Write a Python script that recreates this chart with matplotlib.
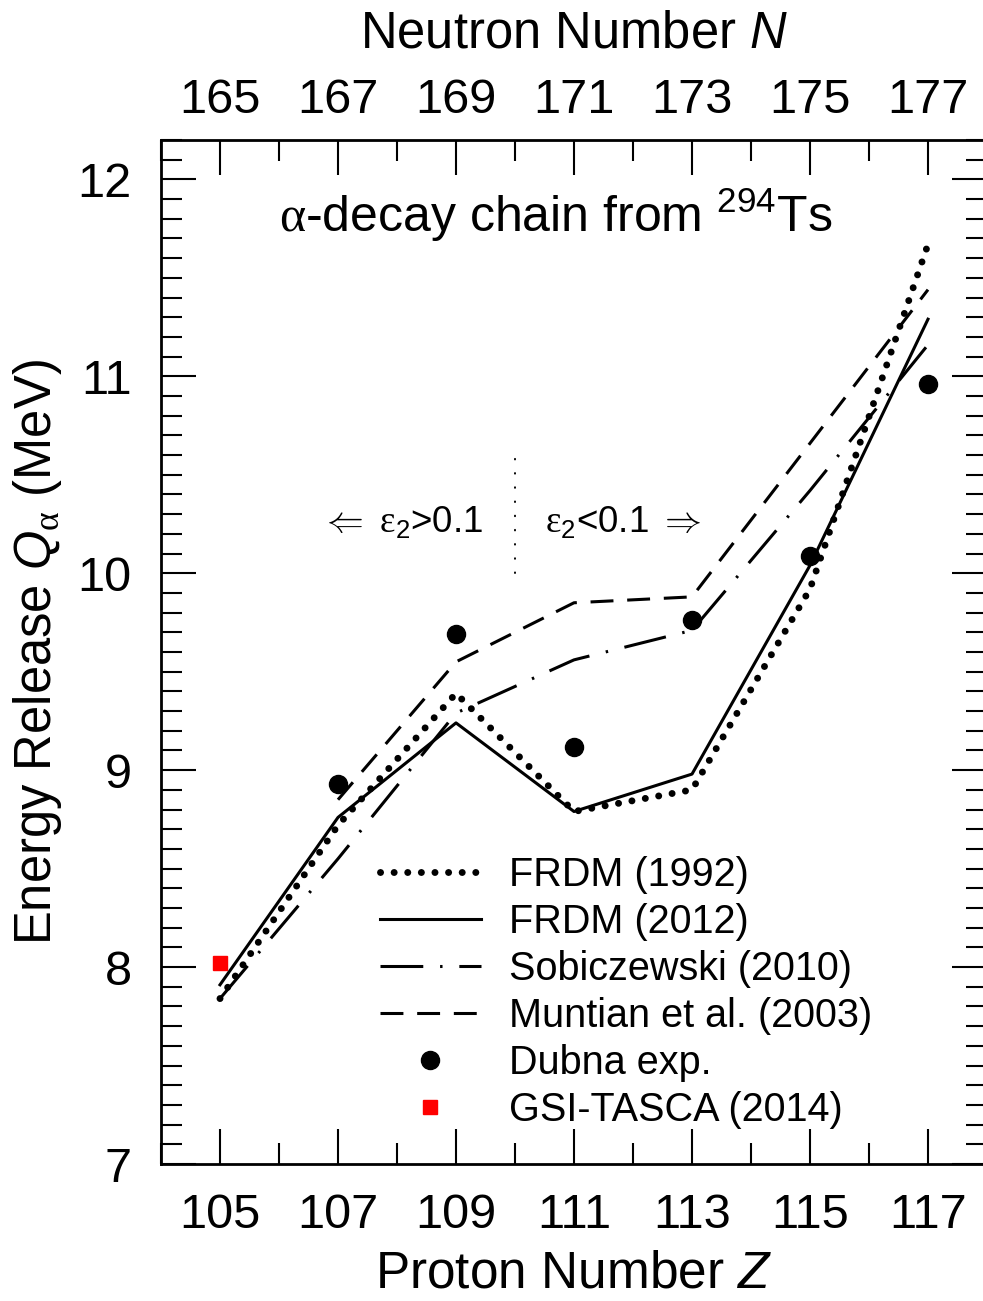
import matplotlib
matplotlib.use("Agg")
import matplotlib.pyplot as plt

plt.rcParams['font.family'] = ['Liberation Sans', 'DejaVu Sans']
plt.rcParams['mathtext.fontset'] = 'custom'
plt.rcParams['mathtext.rm'] = 'Liberation Sans'
plt.rcParams['mathtext.it'] = 'Liberation Sans:italic'
# serif greek letters (Symbol-font look of the original)
plt.rcParams['mathtext.sf'] = 'Liberation Serif'

# proton numbers along the chain
Z = [105, 107, 109, 111, 113, 115, 117]
frdm1992 = [7.84, 8.72, 9.39, 8.79, 8.90, 9.92, 11.67]
frdm2012 = [7.91, 8.76, 9.24, 8.79, 8.98, 10.04, 11.29]
sobi2010 = [7.84, 8.55, 9.29, 9.56, 9.71, 10.42, 11.16]
Z_munt = [107, 109, 111, 113, 115, 117]
munt2003 = [8.85, 9.55, 9.85, 9.88, 10.66, 11.44]
Z_dubna = [107, 109, 111, 113, 115, 117]
dubna = [8.93, 9.69, 9.12, 9.76, 10.09, 10.96]
Z_gsi = [105]
gsi = [8.02]

fig = plt.figure(figsize=(9.83, 13.01), dpi=100)
ax = fig.add_axes([161/983, 137/1301, 826/983, 1024/1301])

ax.plot(Z, frdm1992, color='k', lw=5, linestyle=(0, (0.01, 1.95)),
        dash_capstyle='round', label='FRDM (1992)')
ax.plot(Z, frdm2012, color='k', lw=2.2, label='FRDM (2012)')
ax.plot(Z, sobi2010, color='k', lw=2.2, linestyle=(0, (14, 5.5, 0.8, 5.5)),
        label='Sobiczewski (2010)')
ax.plot(Z_munt, munt2003, color='k', lw=2.2, linestyle=(0, (7.5, 4.5)),
        label='Muntian et al. (2003)')
ax.plot(Z_dubna, dubna, 'o', color='k', ms=13, label='Dubna exp.')
ax.plot(Z_gsi, gsi, 's', color='red', ms=10.5, label='GSI-TASCA (2014)')

# boundary between deformed and less deformed nuclei
ax.plot([110, 110], [10.0, 10.6], color='k', lw=1.4, linestyle=(0, (0.3, 7)),
        dash_capstyle='round')
ax.text(109.46, 10.26, r'$\Leftarrow$ $\mathsf{\varepsilon}_2$>0.1', fontsize=26.5,
        ha='right', va='center')
ax.text(110.51, 10.26, r'$\mathsf{\varepsilon}_2$<0.1 $\Rightarrow$', fontsize=26.5,
        ha='left', va='center')

ax.text(110.69, 11.82, r'$\mathsf{\alpha}$-decay chain from $^{294}$Ts', fontsize=36,
        ha='center', va='center')

ax.set_xlim(104, 118)
ax.set_ylim(7, 12.2)
ax.set_xticks(Z)
ax.set_xticks(range(104, 119), minor=True)
ax.set_yticks(range(7, 13))
ax.set_yticks([7 + 0.1 * i for i in range(53)], minor=True)
ax.tick_params(which='both', direction='in', width=1.5, right=True, labelsize=35)
ax.tick_params(which='major', length=25, pad=21)
ax.tick_params(which='minor', length=15)
for s in ax.spines.values():
    s.set_linewidth(2)

ax.set_xlabel('Proton Number $Z$', fontsize=37, labelpad=8)
ax.set_ylabel(r'Energy Release $Q_{\mathsf{\alpha}}$ (MeV)', fontsize=36.5, labelpad=10)

top = ax.secondary_xaxis('top', functions=(lambda z: z + 60, lambda n: n - 60))
top.set_xticks([z + 60 for z in Z])
top.set_xticks(range(164, 179), minor=True)
top.tick_params(which='both', direction='in', width=1.5, labelsize=35)
top.tick_params(which='major', length=25, pad=12)
top.tick_params(which='minor', length=15)
top.set_xlabel('Neutron Number $N$', fontsize=36.5, labelpad=22)

ax.legend(loc='upper left', bbox_to_anchor=(0.265, 0.301), frameon=False, fontsize=28.5,
          handlelength=2.55, handletextpad=0.72, labelspacing=0.23,
          borderpad=0, borderaxespad=0)

fig.savefig('out.png', dpi=100)
